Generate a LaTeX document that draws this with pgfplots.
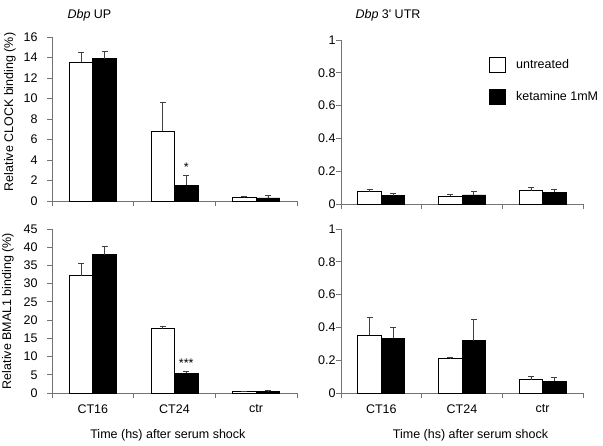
\documentclass[border=0pt]{standalone}
\usepackage{pgfplots}
\usepackage{pgfplotstable}
\pgfplotsset{compat=1.18}
\usepackage{fontspec}
\setmainfont{Liberation Sans}
\newcommand\fs{\fontsize{12.5pt}{15pt}\selectfont}

% top-left: Dbp UP, CLOCK
\pgfplotstableread{
x y e
1 13.56 0.94
2 6.80 2.80
3 0.36 0.05
}\TLu
\pgfplotstableread{
x y e
1 13.90 0.67
2 1.53 0.94
3 0.30 0.25
}\TLk
% top-right: Dbp 3' UTR, CLOCK
\pgfplotstableread{
x y e
1 0.075 0.015
2 0.047 0.012
3 0.081 0.019
}\TRu
\pgfplotstableread{
x y e
1 0.050 0.013
2 0.055 0.024
3 0.071 0.020
}\TRk
% bottom-left: Dbp UP, BMAL1
\pgfplotstableread{
x y e
1 32.2 3.4
2 17.6 0.8
3 0.45 0.10
}\BLu
\pgfplotstableread{
x y e
1 37.9 2.2
2 5.47 0.45
3 0.36 0.28
}\BLk
% bottom-right: Dbp 3' UTR, BMAL1
\pgfplotstableread{
x y e
1 0.351 0.111
2 0.209 0.006
3 0.081 0.020
}\BRu
\pgfplotstableread{
x y e
1 0.335 0.065
2 0.318 0.128
3 0.071 0.022
}\BRk

\pgfplotsset{
  panel/.style={
    scale only axis, height=164pt, anchor=south west,
    axis x line*=bottom, axis y line*=left,
    axis line style={black!55, line width=0.8pt},
    xmin=0.5, xmax=3.5, ymin=0,
    xtick={0.5,1.5,2.5,3.5}, xticklabels={},
    tick align=outside, major tick length=5pt,
    tick style={black!55, line width=0.8pt},
    ybar=0pt, bar width=23.5pt,
    font=\fs,
    tick label style={font=\fs},
    label style={font=\fs},
    /pgf/number format/assume math mode=true,
    clip=false,
  },
  cats/.style={
    extra x ticks={1,2,3},
    extra x tick labels={CT16,CT24,ctr},
    extra x tick style={major tick length=0pt, tick label style={yshift=-8pt}},
  },
  unt/.style={fill=white, draw=black, line width=0.8pt,
    error bars/y dir=plus, error bars/y explicit,
    error bars/error bar style={black!75, line width=0.8pt},
    error bars/error mark options={rotate=90, mark size=3pt, black!75, line width=0.8pt}},
  ket/.style={fill=black, draw=black, line width=0.8pt,
    error bars/y dir=plus, error bars/y explicit,
    error bars/error bar style={black!75, line width=0.8pt},
    error bars/error mark options={rotate=90, mark size=3pt, black!75, line width=0.8pt}},
}

\begin{document}
\begin{tikzpicture}
\path[use as bounding box] (0,0) rectangle (603pt,445pt);

\node[anchor=west, font=\fs] at (64pt,430pt) {\textit{Dbp} UP};
\node[anchor=west, font=\fs] at (352pt,430pt) {\textit{Dbp} 3\textquotesingle{} UTR};

% top-left
\begin{axis}[panel, at={(52pt,244pt)}, width=245pt,
  ymax=16, ytick={0,2,...,16},
  yticklabel style={xshift=-6pt},
  ylabel={Relative CLOCK binding (\%)},
  ylabel style={at={([xshift=-42pt]axis description cs:0,0.543)}, anchor=center}]
\addplot[unt] table[x=x, y=y, y error=e] {\TLu};
\addplot[ket] table[x=x, y=y, y error=e] {\TLk};
\node[anchor=base, font=\fs] at (axis cs:2.144,2.9) {*};
\end{axis}

% top-right
\begin{axis}[panel, at={(341pt,241pt)}, width=242pt,
  ymax=1, ytick={0,0.2,...,1},
  yticklabel style={xshift=3pt},
  legend style={at={(axis description cs:0.6,0.91)}, anchor=north west,
    draw=none, fill=none, font=\fs, row sep=16pt,
    nodes={inner xsep=10pt}},
  legend cell align=left,
  legend image code/.code={\draw[#1] (0pt,-7.5pt) rectangle (16pt,7.5pt);}]
\addplot[unt] table[x=x, y=y, y error=e] {\TRu};
\addplot[ket] table[x=x, y=y, y error=e] {\TRk};
\legend{untreated, ketamine 1mM}
\end{axis}

% bottom-left
\begin{axis}[panel, cats, at={(52pt,52pt)}, width=245pt,
  ymax=45, ytick={0,5,...,45},
  yticklabel style={xshift=-6pt},
  ylabel={Relative BMAL1 binding (\%)},
  ylabel style={at={([xshift=-44pt]axis description cs:0,0.5)}, anchor=center},
  xlabel={Time (hs) after serum shock},
  xlabel style={at={([yshift=-42pt]axis description cs:0.473,0)}, anchor=center}]
\addplot[unt] table[x=x, y=y, y error=e] {\BLu};
\addplot[ket] table[x=x, y=y, y error=e] {\BLk};
\node[anchor=base, font=\fs] at (axis cs:2.144,7.1) {***};
\end{axis}

% bottom-right
\begin{axis}[panel, cats, at={(341pt,52pt)}, width=242pt,
  ymax=1, ytick={0,0.2,...,1},
  yticklabel style={xshift=3pt},
  xlabel={Time (hs) after serum shock},
  xlabel style={at={([yshift=-42pt]axis description cs:0.535,0)}, anchor=center}]
\addplot[unt] table[x=x, y=y, y error=e] {\BRu};
\addplot[ket] table[x=x, y=y, y error=e] {\BRk};
\end{axis}
\end{tikzpicture}
\end{document}
